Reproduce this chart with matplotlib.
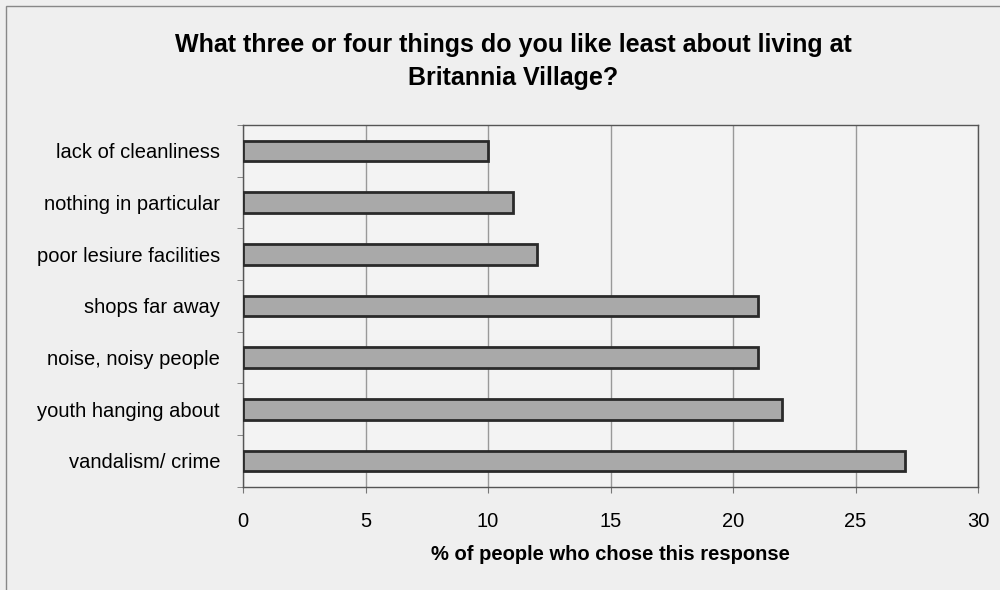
import matplotlib.pyplot as plt
import numpy as np

plt.rcParams['font.family'] = ['Liberation Sans', 'DejaVu Sans']

categories = ['vandalism/ crime', 'youth hanging about', 'noise, noisy people',
              'shops far away', 'poor lesiure facilities', 'nothing in particular',
              'lack of cleanliness']
values = [27, 22, 21, 21, 12, 11, 10]
xticks = [0, 5, 10, 15, 20, 25, 30]

fig = plt.figure(figsize=(10, 5.9), dpi=100, facecolor='#efefef')
ax = fig.add_axes([0.243, 0.175, 0.735, 0.613])
ax.set_facecolor('#f3f3f3')

y = np.arange(len(categories))
ax.barh(y, values, height=0.4, color='#a9a9a9', edgecolor='#2a2a2a', linewidth=2, zorder=3)

ax.set_xlim(0, 30)
ax.set_ylim(-0.5, len(categories) - 0.5)
ax.set_xticks(xticks)
ax.set_xticklabels([str(t) for t in xticks], fontsize=14.5)
ax.set_yticks(y)
ax.set_yticklabels(categories, fontsize=14.5)
ax.set_yticks(np.arange(-0.5, len(categories)), minor=True)
ax.tick_params(axis='y', which='major', length=0, pad=16.5)
ax.tick_params(axis='y', which='minor', length=4, color='#777777')
ax.tick_params(axis='x', which='major', length=4, color='#777777', pad=14)
ax.grid(axis='x', color='#999999', linewidth=1, zorder=0)
for s in ax.spines.values():
    s.set_color('#555555')
    s.set_linewidth(1)

ax.set_xlabel('% of people who chose this response', fontsize=14.5, fontweight='bold', labelpad=10)
fig.text(0.513, 0.896, 'What three or four things do you like least about living at\nBritannia Village?',
         ha='center', va='center', fontsize=18, fontweight='bold', linespacing=1.45)

# outer frame
fig.add_artist(plt.Rectangle((0.006, -0.01), 1.2, 1.0, transform=fig.transFigure,
                             fill=False, edgecolor='#888888', linewidth=1))

fig.savefig('out.png', dpi=100, facecolor=fig.get_facecolor())
